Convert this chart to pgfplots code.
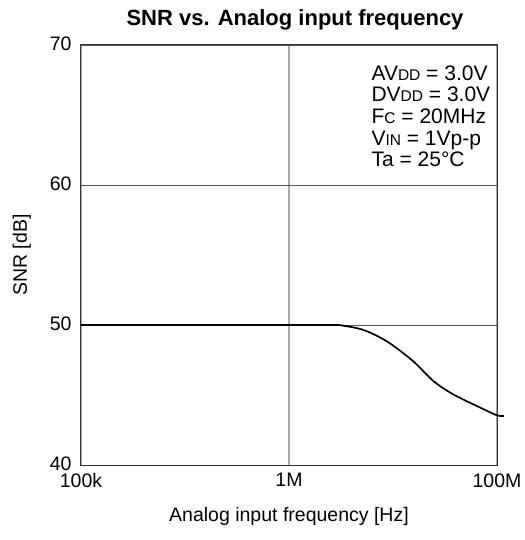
\documentclass[border=0pt]{standalone}
\usepackage{fontspec}
\setmainfont{Liberation Sans}
\usepackage{pgfplots}
\pgfplotsset{compat=1.18}
\definecolor{frame}{HTML}{333333}
\definecolor{ygrid}{HTML}{555555}
\definecolor{xgrid}{HTML}{A8A8A8}
\newcommand{\lbl}{\fontsize{19.5bp}{22bp}\selectfont}
\newcommand{\note}{\fontsize{21bp}{21.7bp}\selectfont}
\newcommand{\sm}[1]{{\fontsize{15.5bp}{15.5bp}\selectfont #1}}

\begin{document}
\begin{tikzpicture}
\begin{axis}[
  scale only axis, width=416bp, height=420bp,
  xmin=0, xmax=2, ymin=40, ymax=70,
  xtick={0,1,2}, xticklabels={100k,1M,100M},
  ytick={40,50,60,70},
  major tick length=0pt,
  axis line style={frame, line width=1bp},
  grid=major,
  x grid style={xgrid, line width=1.2bp},
  y grid style={ygrid, line width=0.9bp},
  tick label style={font=\lbl},
  /pgf/number format/assume math mode=true,
  xticklabel style={yshift=-5bp},
  yticklabel style={xshift=-6bp, yshift=1bp},
  title={\bfseries SNR vs. Analog input frequency},
  title style={font=\fontsize{22bp}{25bp}\selectfont, yshift=5bp, xshift=6bp},
  xlabel={Analog input frequency [Hz]},
  ylabel={SNR [dB]},
  label style={font=\lbl},
  xlabel style={yshift=-13bp},
  ylabel style={yshift=12bp},
  clip=false,
]
\addplot[black, line width=1.7bp, smooth, tension=0.5] coordinates {
  (0,50) (1.0,50) (1.2,50) (1.249,49.98) (1.359,49.64) (1.474,48.8)
  (1.598,47.4) (1.694,46.0) (1.789,45.05) (1.919,44.1) (2.0,43.55) (2.033,43.5) };
\node[anchor=north west, align=left, font=\note, inner sep=0pt]
  at (rel axis cs:0.698,0.952)
  {AV\sm{DD} = 3.0V\\DV\sm{DD} = 3.0V\\F\sm{C} = 20MHz\\V\sm{IN} = 1Vp-p\\Ta = 25°C};
\end{axis}
\path[use as bounding box] (-81bp,-75bp) rectangle (442bp,465bp);
\end{tikzpicture}
\end{document}
